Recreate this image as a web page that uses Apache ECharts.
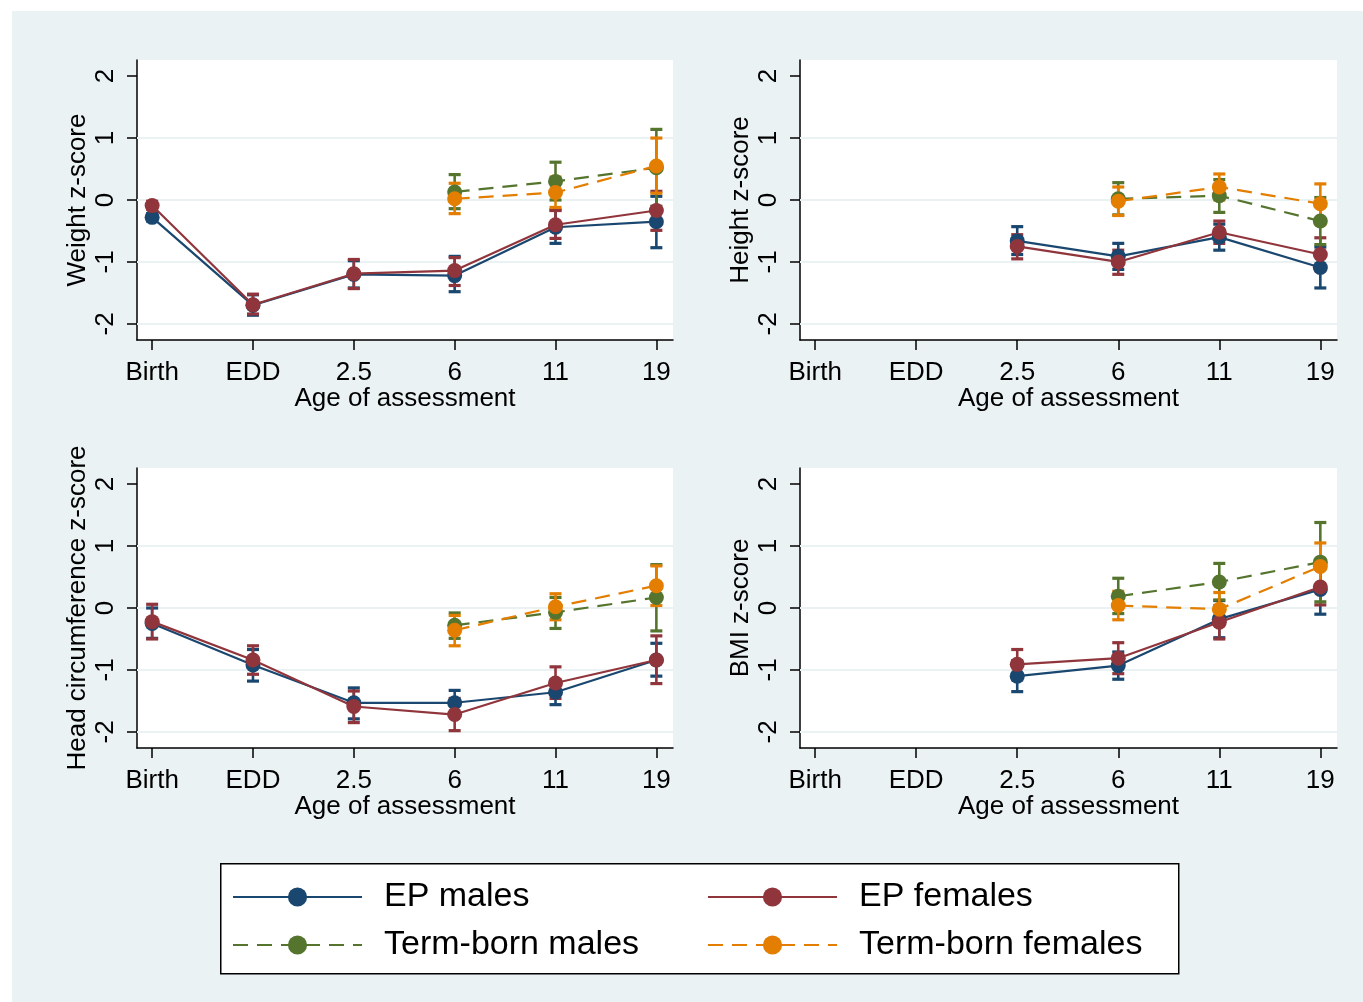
<!DOCTYPE html>
<html>
<head>
<meta charset="utf-8">
<script src="https://cdn.jsdelivr.net/npm/echarts@6/dist/echarts.min.js"></script>
<style>
  html, body { margin: 0; padding: 0; background: #ffffff; }
  #chart { position: absolute; left: 12px; top: 11px; width: 1351px; height: 991px; }
</style>
</head>
<body>
<div id="chart"></div>
<script>
// ---------- data ----------
const categories = ['Birth', 'EDD', '2.5', '6', '11', '19'];
const yTickValues = [-2, -1, 0, 1, 2];
const yGridValues = [-2, -1, 0, 1];
const groupNames = ['EP males', 'EP females', 'Term-born males', 'Term-born females'];
const panelTitles = ['Weight z-score', 'Height z-score', 'Head circumference z-score', 'BMI z-score'];

// Weight
const weightEPMales      = [-0.28, -1.70, -1.20, -1.22, -0.44, -0.35];
const weightEPMalesLo    = [-0.34, -1.86, -1.42, -1.48, -0.70, -0.77];
const weightEPMalesHi    = [-0.22, -1.53, -0.98, -0.91, -0.16,  0.06];
const weightEPFemales    = [-0.09, -1.69, -1.19, -1.14, -0.40, -0.17];
const weightEPFemalesLo  = [-0.15, -1.84, -1.43, -1.38, -0.62, -0.49];
const weightEPFemalesHi  = [-0.02, -1.52, -0.96, -0.93, -0.17,  0.14];
const weightTermMales    = [null, null, null,  0.13,  0.30,  0.52];
const weightTermMalesLo  = [null, null, null, -0.14,  0.00, -0.10];
const weightTermMalesHi  = [null, null, null,  0.41,  0.61,  1.14];
const weightTermFemales  = [null, null, null,  0.02,  0.12,  0.55];
const weightTermFemalesLo= [null, null, null, -0.22, -0.12,  0.11];
const weightTermFemalesHi= [null, null, null,  0.27,  0.37,  1.00];

// Height
const heightEPMales      = [null, null, -0.66, -0.91, -0.60, -1.09];
const heightEPMalesLo    = [null, null, -0.88, -1.12, -0.81, -1.42];
const heightEPMalesHi    = [null, null, -0.43, -0.70, -0.39, -0.76];
const heightEPFemales    = [null, null, -0.75, -1.00, -0.52, -0.88];
const heightEPFemalesLo  = [null, null, -0.95, -1.20, -0.70, -1.14];
const heightEPFemalesHi  = [null, null, -0.56, -0.81, -0.34, -0.61];
const heightTermMales    = [null, null, null,  0.02,  0.07, -0.34];
const heightTermMalesLo  = [null, null, null, -0.24, -0.20, -0.72];
const heightTermMalesHi  = [null, null, null,  0.28,  0.33,  0.04];
const heightTermFemales  = [null, null, null, -0.02,  0.21, -0.06];
const heightTermFemalesLo= [null, null, null, -0.25,  0.00, -0.39];
const heightTermFemalesHi= [null, null, null,  0.21,  0.42,  0.26];

// Head circumference
const headEPMales        = [-0.25, -0.92, -1.53, -1.53, -1.36, -0.84];
const headEPMalesLo      = [-0.49, -1.18, -1.79, -1.74, -1.56, -1.10];
const headEPMalesHi      = [ 0.00, -0.67, -1.29, -1.33, -1.16, -0.57];
const headEPFemales      = [-0.22, -0.84, -1.59, -1.72, -1.21, -0.84];
const headEPFemalesLo    = [-0.50, -1.07, -1.85, -1.98, -1.46, -1.22];
const headEPFemalesHi    = [ 0.06, -0.61, -1.34, -1.46, -0.95, -0.45];
const headTermMales      = [null, null, null, -0.28, -0.07,  0.17];
const headTermMalesLo    = [null, null, null, -0.49, -0.33, -0.37];
const headTermMalesHi    = [null, null, null, -0.08,  0.17,  0.70];
const headTermFemales    = [null, null, null, -0.36,  0.02,  0.36];
const headTermFemalesLo  = [null, null, null, -0.61, -0.19,  0.04];
const headTermFemalesHi  = [null, null, null, -0.12,  0.23,  0.68];

// BMI
const bmiEPMales         = [null, null, -1.10, -0.93, -0.18,  0.30];
const bmiEPMalesLo       = [null, null, -1.35, -1.15, -0.48, -0.10];
const bmiEPMalesHi       = [null, null, -0.85, -0.71,  0.12,  0.70];
const bmiEPFemales       = [null, null, -0.91, -0.81, -0.23,  0.34];
const bmiEPFemalesLo     = [null, null, -1.16, -1.06, -0.50,  0.05];
const bmiEPFemalesHi     = [null, null, -0.67, -0.56,  0.04,  0.63];
const bmiTermMales       = [null, null, null,  0.19,  0.42,  0.74];
const bmiTermMalesLo     = [null, null, null, -0.09,  0.13,  0.10];
const bmiTermMalesHi     = [null, null, null,  0.48,  0.72,  1.38];
const bmiTermFemales     = [null, null, null,  0.04, -0.02,  0.67];
const bmiTermFemalesLo   = [null, null, null, -0.19, -0.28,  0.29];
const bmiTermFemalesHi   = [null, null, null,  0.27,  0.25,  1.05];

const panelData = [
  [[weightEPMales, weightEPMalesLo, weightEPMalesHi], [weightEPFemales, weightEPFemalesLo, weightEPFemalesHi],
   [weightTermMales, weightTermMalesLo, weightTermMalesHi], [weightTermFemales, weightTermFemalesLo, weightTermFemalesHi]],
  [[heightEPMales, heightEPMalesLo, heightEPMalesHi], [heightEPFemales, heightEPFemalesLo, heightEPFemalesHi],
   [heightTermMales, heightTermMalesLo, heightTermMalesHi], [heightTermFemales, heightTermFemalesLo, heightTermFemalesHi]],
  [[headEPMales, headEPMalesLo, headEPMalesHi], [headEPFemales, headEPFemalesLo, headEPFemalesHi],
   [headTermMales, headTermMalesLo, headTermMalesHi], [headTermFemales, headTermFemalesLo, headTermFemalesHi]],
  [[bmiEPMales, bmiEPMalesLo, bmiEPMalesHi], [bmiEPFemales, bmiEPFemalesLo, bmiEPFemalesHi],
   [bmiTermMales, bmiTermMalesLo, bmiTermMalesHi], [bmiTermFemales, bmiTermFemalesLo, bmiTermFemalesHi]]
];

// ---------- style ----------
const FONT = '"Liberation Sans", Arial, Helvetica, sans-serif';
const BG = '#eaf2f3';
const colors = ['#1a476f', '#90353b', '#55752f', '#e37e00'];
const dashed = [false, false, true, true];
const grids = [
  { left: 125, top: 49,  width: 536, height: 280 },
  { left: 788, top: 49,  width: 537, height: 280 },
  { left: 125, top: 457, width: 536, height: 280 },
  { left: 788, top: 457, width: 537, height: 280 }
];

const xPositions = categories.map((c, i) => i + 1);

function makeErrRender(color) {
  return function (params, api) {
    const x = api.value(0), lo = api.value(1), hi = api.value(2);
    const pLo = api.coord([x, lo]);
    const pHi = api.coord([x, hi]);
    const hw = 6;
    const st = { stroke: color, lineWidth: 2.6 };
    return {
      type: 'group',
      children: [
        { type: 'line', shape: { x1: pLo[0], y1: pLo[1], x2: pHi[0], y2: pHi[1] }, style: st },
        { type: 'line', shape: { x1: pLo[0] - hw, y1: pLo[1], x2: pLo[0] + hw, y2: pLo[1] }, style: { stroke: color, lineWidth: 3.2 } },
        { type: 'line', shape: { x1: pHi[0] - hw, y1: pHi[1], x2: pHi[0] + hw, y2: pHi[1] }, style: { stroke: color, lineWidth: 3.2 } }
      ]
    };
  };
}

const xAxes = [], yAxes = [], series = [];
grids.forEach((g, p) => {
  xAxes.push({
    type: 'value', gridIndex: p, min: 0.85, max: 6.165,
    name: 'Age of assessment', nameLocation: 'middle', nameGap: 46,
    nameMoveOverlap: false,
    nameTextStyle: { fontFamily: FONT, fontSize: 26, color: '#000', lineHeight: 26 },
    axisLine: { show: true, onZero: false, lineStyle: { color: '#000', width: 1.5 } },
    axisTick: { show: true, length: 10, customValues: xPositions, lineStyle: { color: '#000', width: 1.5 } },
    axisLabel: {
      show: true, margin: 20, customValues: xPositions,
      fontFamily: FONT, fontSize: 26, color: '#000', lineHeight: 26,
      formatter: v => categories[Math.round(v) - 1]
    },
    splitLine: { show: false }
  });
  yAxes.push({
    type: 'value', gridIndex: p, min: -2.26, max: 2.26,
    name: panelTitles[p], nameLocation: 'middle', nameGap: 46, nameRotate: 90,
    nameMoveOverlap: false,
    nameTextStyle: { fontFamily: FONT, fontSize: 26, color: '#000', lineHeight: 26 },
    axisLine: { show: true, onZero: false, lineStyle: { color: '#000', width: 1.5 } },
    axisTick: { show: true, length: 10, customValues: yTickValues, lineStyle: { color: '#000', width: 1.5 } },
    axisLabel: {
      show: true, margin: 18, rotate: 90, customValues: yTickValues,
      fontFamily: FONT, fontSize: 26, color: '#000', lineHeight: 26
    },
    splitLine: { show: false }
  });
  panelData[p].forEach((grp, k) => {
    const [mean, lo, hi] = grp;
    const errData = [];
    const lineData = [];
    categories.forEach((c, i) => {
      if (mean[i] !== null) {
        lineData.push([xPositions[i], mean[i]]);
        errData.push([xPositions[i], lo[i], hi[i]]);
      }
    });
    series.push({
      type: 'custom', name: groupNames[k] + ' CI', xAxisIndex: p, yAxisIndex: p,
      renderItem: makeErrRender(colors[k]), data: errData, z: 3, silent: true,
      encode: { x: 0, y: [1, 2] }
    });
    const s = {
      type: 'line', name: groupNames[k], xAxisIndex: p, yAxisIndex: p,
      data: lineData, symbol: 'circle', symbolSize: 15, showSymbol: true,
      itemStyle: { color: colors[k] },
      lineStyle: { color: colors[k], width: 2.2, type: dashed[k] ? [15, 9] : 'solid' },
      z: 4 + k, silent: true
    };
    if (k === 0) {
      s.markLine = {
        silent: true, symbol: 'none', z: 1, animation: false,
        label: { show: false },
        lineStyle: { color: BG, width: 2, type: 'solid' },
        data: yGridValues.map(v => ({ yAxis: v }))
      };
    }
    series.push(s);
  });
});

const legendCommon = {
  orient: 'vertical', itemWidth: 129, itemHeight: 24, itemGap: 14,
  selectedMode: false,
  textStyle: { fontFamily: FONT, fontSize: 34, color: '#000', lineHeight: 34, padding: [0, 0, 0, 17] }
};

const option = {
  backgroundColor: BG,
  animation: false,
  grid: grids.map(g => Object.assign({ show: true, backgroundColor: '#ffffff', borderWidth: 0, containLabel: false }, g)),
  xAxis: xAxes,
  yAxis: yAxes,
  graphic: [{
    type: 'rect', left: 208, top: 852, z: -1,
    shape: { width: 958, height: 110 },
    style: { fill: '#ffffff', stroke: '#000', lineWidth: 1.5 }
  }],
  legend: [
    Object.assign({ left: 215, top: 864, data: [groupNames[0], groupNames[2]] }, legendCommon),
    Object.assign({ left: 690, top: 864, data: [groupNames[1], groupNames[3]] }, legendCommon)
  ],
  series: series
};

const chart = echarts.init(document.getElementById('chart'), null, { renderer: 'canvas' });
chart.setOption(option);
</script>
</body>
</html>
